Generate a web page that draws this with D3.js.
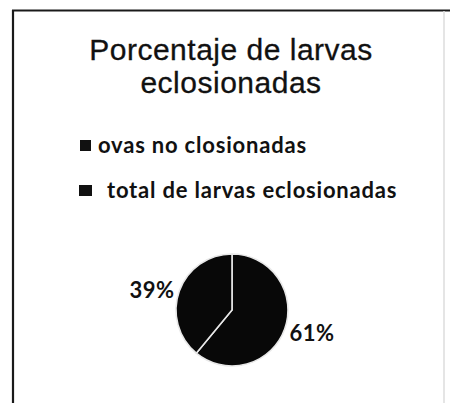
<!DOCTYPE html>
<html>
<head>
<meta charset="utf-8">
<script src="https://cdn.jsdelivr.net/npm/d3@7"></script>
<style>
  body { margin: 0; background: #fff; }
  svg { display: block; }
</style>
</head>
<body>
<svg id="chart" width="450" height="403"></svg>
<script>
// chart data
var titleLines = ["Porcentaje de larvas", "eclosionadas"];
var categories = ["total de larvas eclosionadas", "ovas no closionadas"];
var values = [61, 39];
var legendOrder = ["ovas no closionadas", "total de larvas eclosionadas"];

var svg = d3.select("#chart");

// frame (scanned chart border: top + left dark, right faint)
svg.append("line").attr("x1", 12).attr("y1", 10.5).attr("x2", 450).attr("y2", 10.5)
    .attr("stroke", "#1a1a1a").attr("stroke-width", 2.2);
svg.append("line").attr("x1", 13).attr("y1", 10).attr("x2", 13).attr("y2", 403)
    .attr("stroke", "#1a1a1a").attr("stroke-width", 2.2);
svg.append("line").attr("x1", 444).attr("y1", 11).attr("x2", 444).attr("y2", 403)
    .attr("stroke", "#ddd").attr("stroke-width", 1.5);

// title
svg.append("text")
    .attr("x", 231)
    .attr("y", 60)
    .attr("text-anchor", "middle")
    .style("font-family", "'Liberation Sans', Arial, sans-serif")
    .style("font-size", "30px")
    .style("letter-spacing", "0.5px")
    .style("fill", "#111")
    .style("stroke", "#111")
    .style("stroke-width", 0.3)
  .selectAll("tspan")
  .data(titleLines)
  .enter().append("tspan")
    .attr("x", 231)
    .attr("dy", function(d, i) { return i ? 33 : 0; })
    .text(function(d) { return d; });

// legend
var legend = svg.append("g")
    .attr("transform", "translate(79,0)");

var item = legend.selectAll(".item")
    .data(legendOrder)
    .enter().append("g")
      .attr("class", "item")
      .attr("transform", function(d, i) { return "translate(0," + (153 + i * 45) + ")"; });

item.append("rect")
    .attr("x", function(d, i) { return i ? 0 : 1; })
    .attr("y", -13)
    .attr("width", function(d, i) { return i ? 13 : 11; })
    .attr("height", 11)
    .attr("fill", "#111");

item.append("text")
    .attr("x", function(d, i) { return i ? 28 : 19; })
    .attr("y", 0)
    .style("font-family", "Lato, 'Open Sans', sans-serif")
    .style("font-weight", "bold")
    .style("font-size", "22px")
    .style("letter-spacing", "0.8px")
    .style("fill", "#111")
    .text(function(d) { return d; });

// pie
var cx = 232, cy = 310, radius = 56;

var pie = d3.pie()
    .sort(null)
    .value(function(d) { return d; });

var arc = d3.arc()
    .innerRadius(0)
    .outerRadius(radius);

var labelArc = d3.arc()
    .innerRadius(radius + 29)
    .outerRadius(radius + 29);

var g = svg.append("g")
    .attr("transform", "translate(" + cx + "," + cy + ")");

var arcs = pie(values);

g.selectAll(".slice")
    .data(arcs)
    .enter().append("path")
      .attr("class", "slice")
      .attr("d", arc)
      .attr("fill", "#080808")
      .attr("stroke", "#e8e8e8")
      .attr("stroke-width", 1.6)
      .attr("stroke-linejoin", "round");

// labels sit a bit flatter than the plain centroid, like the excel layout
g.selectAll(".label")
    .data(arcs)
    .enter().append("text")
      .attr("class", "label")
      .attr("transform", function(d) {
        var c = labelArc.centroid(d);
        return "translate(" + c[0] + "," + (c[1] * 0.75 + 2) + ")";
      })
      .attr("text-anchor", "middle")
      .attr("dy", "0.35em")
      .style("font-family", "Lato, 'Open Sans', sans-serif")
      .style("font-weight", "bold")
      .style("font-size", "22px")
      .style("letter-spacing", "0.5px")
      .style("fill", "#111")
      .text(function(d) { return d.data + "%"; });
</script>
</body>
</html>
